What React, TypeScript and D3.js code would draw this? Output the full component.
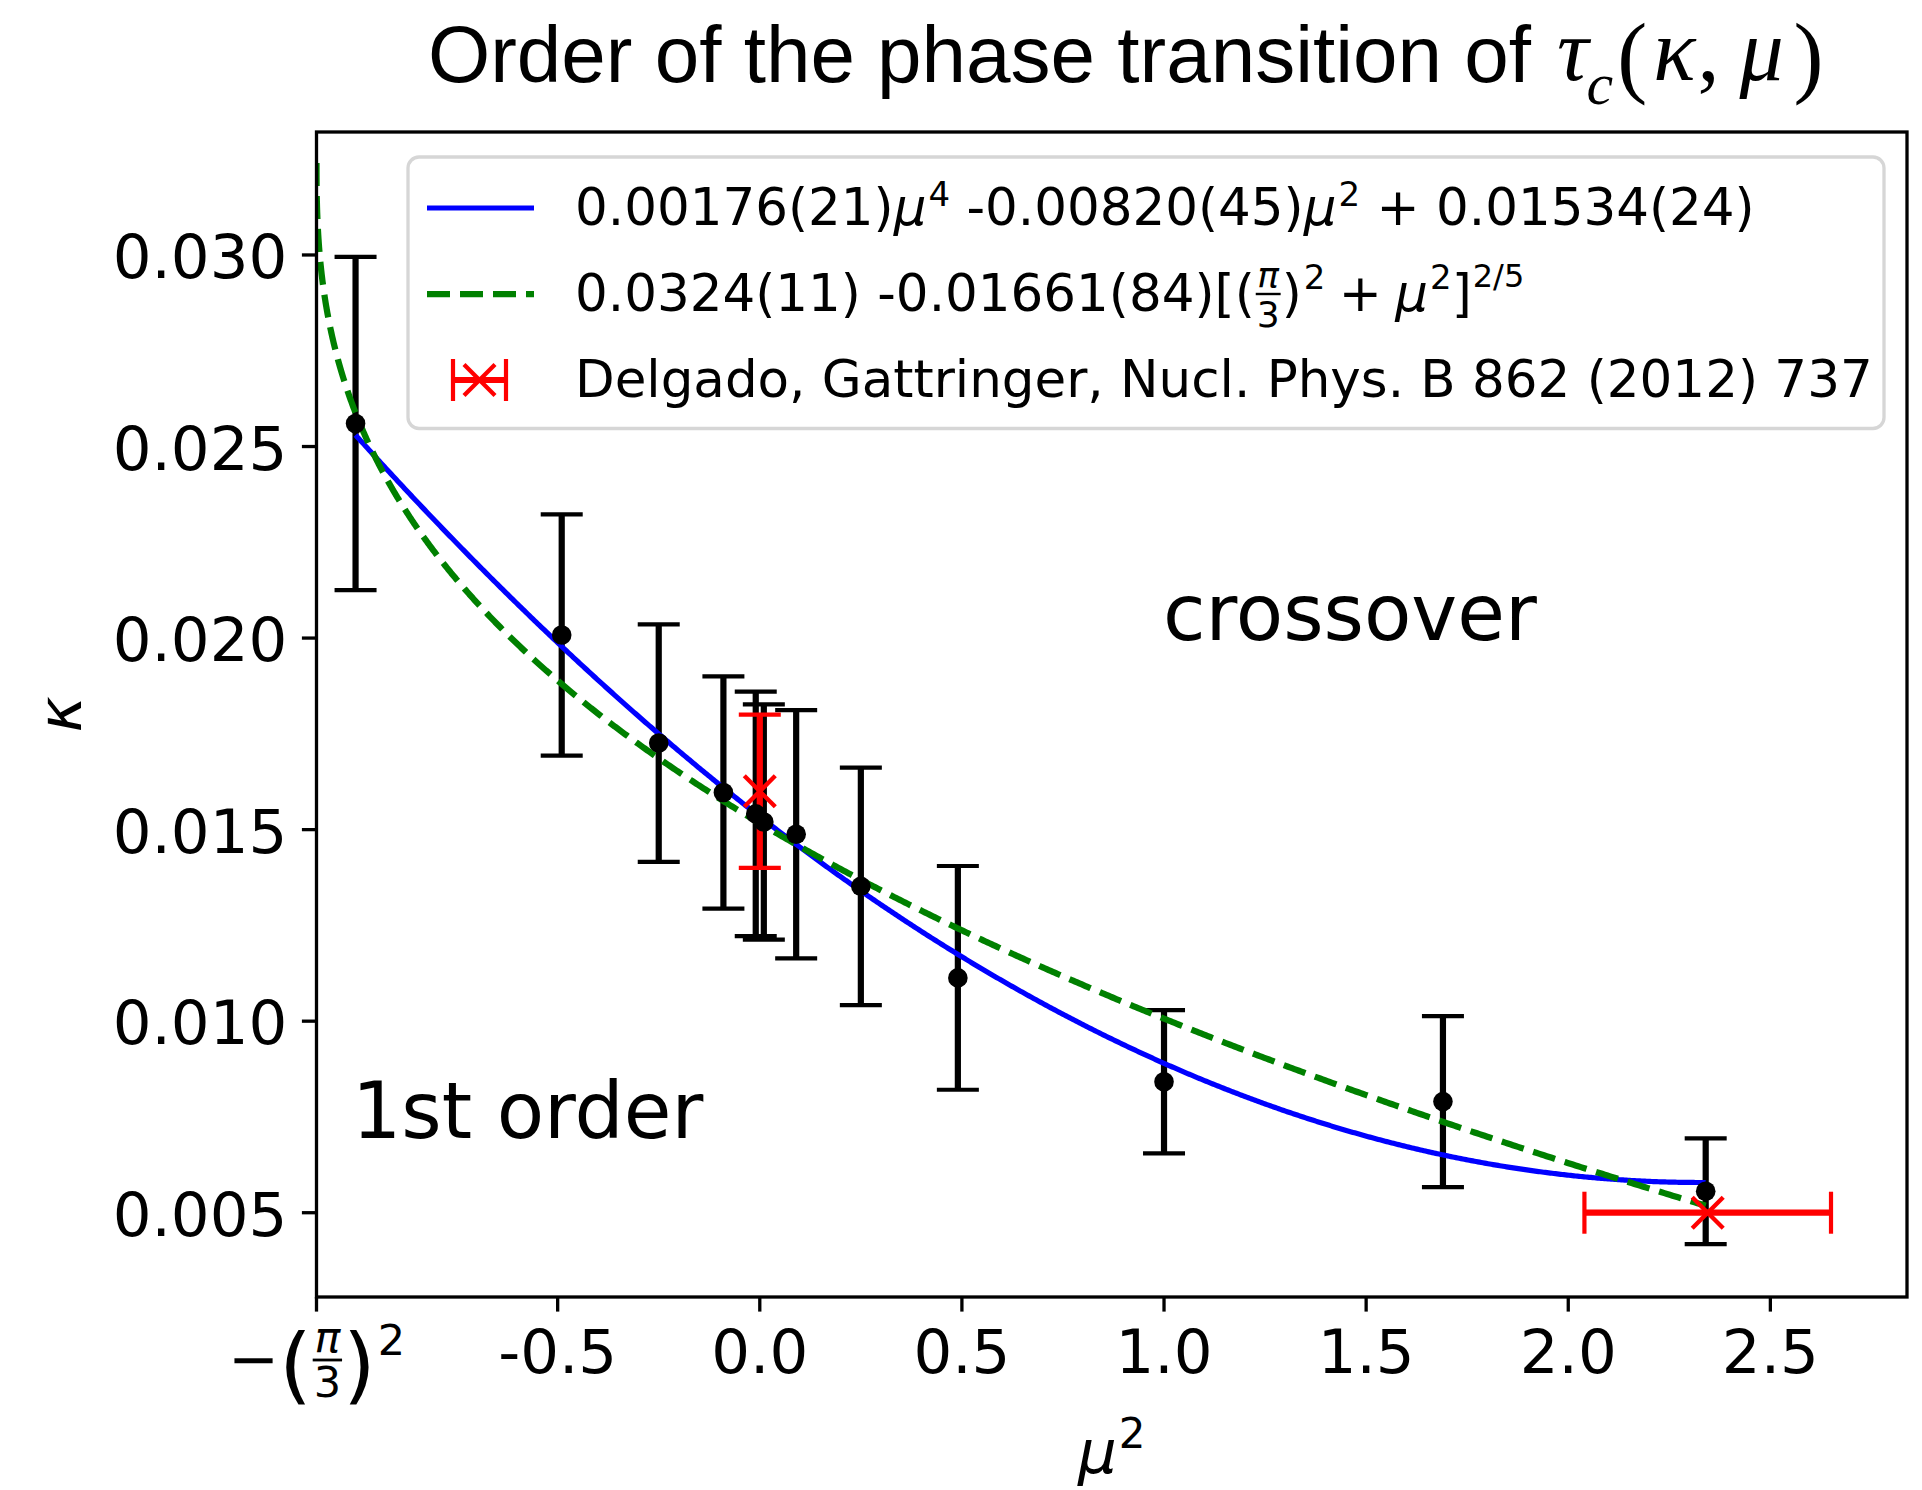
import React from 'react';
import * as d3 from 'd3';

// ---------------- data ----------------
const muSquared = [-1.0, -0.49, -0.25, -0.09, -0.01, 0.01, 0.09, 0.25, 0.49, 1.0, 1.69, 2.34];
const kappaValues = [0.0256, 0.02008, 0.01726, 0.01597, 0.01541, 0.0152, 0.01488, 0.01352, 0.01113, 0.00842, 0.0079, 0.00556];
const kappaErrors = [0.00435, 0.00315, 0.0031, 0.00303, 0.00319, 0.00307, 0.00324, 0.0031, 0.00292, 0.00187, 0.00223, 0.00138];

const refMuSquared = [0.0, 2.345];
const refKappa = [0.016, 0.005];
const refKappaErr = [0.002, 0];
const refMuSquaredErr = [0, 0.305];

// fit parameters (from the legend)
const polyCoeffs = [0.00176, -0.0082, 0.01534]; // a*mu^4 + b*mu^2 + c
const powerCoeffs = [0.0324, -0.01661, 0.4]; // A + B*[(pi/3)^2 + mu^2]^p
const curveEnd = 2.34;
const polyStart = -1.0;

const X_MIN = -Math.pow(Math.PI / 3, 2);
const X_MAX = 2.838;
const Y_MIN = 0.0028;
const Y_MAX = 0.03321;

const xTickValues = [X_MIN, -0.5, 0, 0.5, 1.0, 1.5, 2.0, 2.5];
const xTickLabels = ['', '-0.5', '0.0', '0.5', '1.0', '1.5', '2.0', '2.5'];
const yTickValues = [0.005, 0.01, 0.015, 0.02, 0.025, 0.03];
const yTickLabels = ['0.005', '0.010', '0.015', '0.020', '0.025', '0.030'];

const legendRow3 = 'Delgado, Gattringer, Nucl. Phys. B 862 (2012) 737';

// ---------------- layout ----------------
const W = 1922;
const H = 1490;
const L = 316.5;
const R = 1907;
const T = 132;
const B = 1297;

const SANS = 'DejaVu Sans';
const SERIF = 'Liberation Serif';
const TITLE_FONT = 'Liberation Sans';
const TICK_SIZE = 61;
const LEG_SIZE = 51.5;
const LEG_SUP = 34;
const ANN_SIZE = 77.5;

let _ctx: CanvasRenderingContext2D | null = null;
function tw(text: string, fam: string, size: number, it: boolean): number {
  if (!_ctx) _ctx = document.createElement('canvas').getContext('2d');
  const c = _ctx as CanvasRenderingContext2D;
  c.font = `${it ? 'italic ' : ''}${size}px "${fam}"`;
  return c.measureText(text).width;
}

type Frac = { num: string; den: string; numIt?: boolean; numBase: number; denBase: number; barY: number; pad?: number; barW?: number };
type Seg = { t?: string; size: number; fam?: string; it?: boolean; dy?: number; kern?: number; frac?: Frac };

function MathText({ x, y, segs, fam, anchor = 'start', fill = 'black' }: { x: number; y: number; segs: Seg[]; fam: string; anchor?: string; fill?: string }) {
  let cx = 0;
  const items: any[] = [];
  for (const s of segs) {
    cx += s.kern ?? 0;
    const f = s.fam ?? fam;
    if (s.frac) {
      const wn = tw(s.frac.num, f, s.size, !!s.frac.numIt);
      const wd = tw(s.frac.den, f, s.size, false);
      const pad = s.frac.pad ?? 3;
      const w = Math.max(wn, wd) + 2 * pad;
      items.push({ kind: 'frac', x: cx, w, s, f });
      cx += w;
    } else {
      const w = tw(s.t as string, f, s.size, !!s.it);
      items.push({ kind: 'text', x: cx, w, s, f });
      cx += w;
    }
  }
  const x0 = x - (anchor === 'middle' ? cx / 2 : anchor === 'end' ? cx : 0);
  return (
    <g>
      {items.map((it, i) => {
        const s: Seg = it.s;
        if (it.kind === 'text') {
          return (
            <text key={i} x={x0 + it.x} y={y - (s.dy ?? 0)} fontFamily={it.f} fontSize={s.size}
              fontStyle={s.it ? 'italic' : 'normal'} fill={fill} style={{ whiteSpace: 'pre' }}>{s.t}</text>
          );
        }
        const fr = s.frac as Frac;
        const cxm = x0 + it.x + it.w / 2;
        return (
          <g key={i}>
            <text x={cxm} y={y + fr.numBase} textAnchor="middle" fontFamily={it.f} fontSize={s.size}
              fontStyle={fr.numIt ? 'italic' : 'normal'} fill={fill}>{fr.num}</text>
            <line x1={x0 + it.x + 1} x2={x0 + it.x + it.w - 1} y1={y + fr.barY} y2={y + fr.barY}
              stroke={fill} strokeWidth={fr.barW ?? 2.6} />
            <text x={cxm} y={y + fr.denBase} textAnchor="middle" fontFamily={it.f} fontSize={s.size}
              fill={fill}>{fr.den}</text>
          </g>
        );
      })}
    </g>
  );
}

export default function App() {
  const x = d3.scaleLinear().domain([X_MIN, X_MAX]).range([L, R]);
  const y = d3.scaleLinear().domain([Y_MIN, Y_MAX]).range([B, T]);
  const line = d3.line<[number, number]>().x(d => x(d[0])).y(d => y(d[1]));

  const polyPts: [number, number][] = d3.range(0, 801).map(i => {
    const m = polyStart + (curveEnd - polyStart) * (i / 800);
    return [m, polyCoeffs[0] * m * m + polyCoeffs[1] * m + polyCoeffs[2]];
  });
  const powPts: [number, number][] = d3.range(0, 1001).map(i => {
    const m = X_MIN + (curveEnd - X_MIN) * Math.pow(i / 1000, 2);
    const base = Math.max(0, Math.pow(Math.PI / 3, 2) + m);
    return [m, powerCoeffs[0] + powerCoeffs[1] * Math.pow(base, powerCoeffs[2])];
  });

  const tickLen = 14.6;
  const spineW = 3.3;
  const capHalf = 21;
  const barW = 6.2;
  const capW = 4.2;
  const red = '#ff0000';
  const xm = 15.5;

  const row1: Seg[] = [
    { t: '0.00176(21)', size: LEG_SIZE },
    { t: 'μ', size: LEG_SIZE, it: true },
    { t: '4', size: LEG_SUP, dy: 19, kern: 2 },
    { t: ' -0.00820(45)', size: LEG_SIZE },
    { t: 'μ', size: LEG_SIZE, it: true },
    { t: '2', size: LEG_SUP, dy: 19, kern: 2 },
    { t: ' + 0.01534(24)', size: LEG_SIZE },
  ];
  const row2: Seg[] = [
    { t: '0.0324(11) -0.01661(84)[(', size: LEG_SIZE },
    { size: 36, frac: { num: 'π', den: '3', numIt: true, numBase: -23, denBase: 16, barY: -17, pad: 2, barW: 2.4 } },
    { t: ')', size: LEG_SIZE },
    { t: '2', size: LEG_SUP, dy: 22, kern: 2 },
    { t: ' + ', size: LEG_SIZE, kern: -3 },
    { t: 'μ', size: LEG_SIZE, it: true, kern: -3 },
    { t: '2', size: LEG_SUP, dy: 22, kern: 2 },
    { t: ']', size: LEG_SIZE },
    { t: '2/5', size: LEG_SUP - 2, dy: 24, kern: 1 },
  ];
  const firstTick: Seg[] = [
    { t: '−', size: TICK_SIZE },
    { t: '(', size: 84, dy: -14 },
    { size: 43, frac: { num: 'π', den: '3', numIt: true, numBase: -28, denBase: 17, barY: -20, pad: 2, barW: 2.8 } },
    { t: ')', size: 84, dy: -14 },
    { t: '2', size: 43, dy: 25, kern: 2 },
  ];
  const titleMath: Seg[] = [
    { t: 'τ', size: 88, it: true, fam: SERIF, dy: 2, kern: 4 },
    { t: 'c', size: 60, it: true, fam: SERIF, dy: -22, kern: -2 },
    { t: '(', size: 90, fam: SERIF, dy: -4, kern: 4 },
    { t: 'κ', size: 88, it: true, fam: SERIF, dy: 2, kern: 6 },
    { t: ',', size: 88, fam: SERIF, dy: 2, kern: 2 },
    { t: 'μ', size: 88, it: true, fam: SERIF, dy: 2, kern: 20 },
    { t: ')', size: 90, fam: SERIF, dy: -4, kern: 10 },
  ];
  const titleText = 'Order of the phase transition of ';
  const titleX = 428;
  const titleSize = 80;
  const titleW = tw(titleText, TITLE_FONT, titleSize, false);

  return (
    <svg width={W} height={H} viewBox={`0 0 ${W} ${H}`} style={{ position: 'absolute', left: 0, top: 0, background: 'white' }}>
      <rect x={0} y={0} width={W} height={H} fill="white" />
      <defs>
        <clipPath id="plotclip">
          <rect x={L} y={T} width={R - L} height={B - T} />
        </clipPath>
      </defs>

      {/* title */}
      <text x={titleX} y={82} fontFamily={TITLE_FONT} fontSize={titleSize} fill="black" style={{ whiteSpace: 'pre' }}>{titleText}</text>
      <MathText x={titleX + titleW} y={82} segs={titleMath} fam={SERIF} />

      <g clipPath="url(#plotclip)">
        {/* black error bars */}
        {muSquared.map((m, i) => {
          const cxp = x(m);
          const y1 = y(kappaValues[i] + kappaErrors[i]);
          const y2 = y(kappaValues[i] - kappaErrors[i]);
          return (
            <g key={'eb' + i} stroke="black">
              <line x1={cxp} x2={cxp} y1={y1} y2={y2} strokeWidth={barW} />
              <line x1={cxp - capHalf} x2={cxp + capHalf} y1={y1} y2={y1} strokeWidth={capW} />
              <line x1={cxp - capHalf} x2={cxp + capHalf} y1={y2} y2={y2} strokeWidth={capW} />
            </g>
          );
        })}
        {/* red reference error bars */}
        {refMuSquared.map((m, i) => {
          const cxp = x(m);
          const cyp = y(refKappa[i]);
          const els: any[] = [];
          if (refKappaErr[i] > 0) {
            const y1 = y(refKappa[i] + refKappaErr[i]);
            const y2 = y(refKappa[i] - refKappaErr[i]);
            els.push(<line key="v" x1={cxp} x2={cxp} y1={y1} y2={y2} strokeWidth={barW} />);
            els.push(<line key="c1" x1={cxp - capHalf} x2={cxp + capHalf} y1={y1} y2={y1} strokeWidth={capW} />);
            els.push(<line key="c2" x1={cxp - capHalf} x2={cxp + capHalf} y1={y2} y2={y2} strokeWidth={capW} />);
          }
          if (refMuSquaredErr[i] > 0) {
            const x1 = x(m - refMuSquaredErr[i]);
            const x2 = x(m + refMuSquaredErr[i]);
            els.push(<line key="h" x1={x1} x2={x2} y1={cyp} y2={cyp} strokeWidth={barW} />);
            els.push(<line key="c3" x1={x1} x2={x1} y1={cyp - capHalf} y2={cyp + capHalf} strokeWidth={capW} />);
            els.push(<line key="c4" x1={x2} x2={x2} y1={cyp - capHalf} y2={cyp + capHalf} strokeWidth={capW} />);
          }
          return <g key={'rb' + i} stroke={red}>{els}</g>;
        })}

        {/* fit curves */}
        <path d={line(polyPts) || ''} fill="none" stroke="#0000ff" strokeWidth={5.2} />
        <path d={line(powPts) || ''} fill="none" stroke="#008000" strokeWidth={6.25} strokeDasharray="23,10" />

        {/* black points */}
        {muSquared.map((m, i) => (
          <circle key={'pt' + i} cx={x(m)} cy={y(kappaValues[i])} r={9.8} fill="black" />
        ))}
        {/* red crosses */}
        {refMuSquared.map((m, i) => {
          const cxp = x(m);
          const cyp = y(refKappa[i]);
          return (
            <g key={'rx' + i} stroke={red} strokeWidth={4.3}>
              <line x1={cxp - xm} x2={cxp + xm} y1={cyp - xm} y2={cyp + xm} />
              <line x1={cxp - xm} x2={cxp + xm} y1={cyp + xm} y2={cyp - xm} />
            </g>
          );
        })}
      </g>

      {/* annotations */}
      <text x={1163} y={640} fontFamily={SANS} fontSize={ANN_SIZE} fill="black">crossover</text>
      <text x={352} y={1138} fontFamily={SANS} fontSize={ANN_SIZE} fill="black">1st order</text>

      {/* legend */}
      <g>
        <rect x={408} y={157} width={1476} height={271.5} rx={11} ry={11} fill="white" fillOpacity={0.8}
          stroke="#d6d6d6" strokeWidth={3.3} />
        <line x1={427} x2={534} y1={208} y2={208} stroke="#0000ff" strokeWidth={5.2} />
        <line x1={427} x2={534} y1={294} y2={294} stroke="#008000" strokeWidth={6.25} strokeDasharray="23,10" />
        <g stroke={red}>
          <line x1={453} x2={506} y1={380} y2={380} strokeWidth={barW} />
          <line x1={453} x2={453} y1={359} y2={401} strokeWidth={capW} />
          <line x1={506} x2={506} y1={359} y2={401} strokeWidth={capW} />
          <line x1={479.5 - xm} x2={479.5 + xm} y1={380 - xm} y2={380 + xm} strokeWidth={4.3} />
          <line x1={479.5 - xm} x2={479.5 + xm} y1={380 + xm} y2={380 - xm} strokeWidth={4.3} />
        </g>
        <MathText x={575} y={225} segs={row1} fam={SANS} />
        <MathText x={575} y={311} segs={row2} fam={SANS} />
        <text x={575} y={397} fontFamily={SANS} fontSize={LEG_SIZE} fill="black">{legendRow3}</text>
      </g>

      {/* axes frame */}
      <rect x={L} y={T} width={R - L} height={B - T} fill="none" stroke="black" strokeWidth={spineW} />

      {/* x ticks */}
      {xTickValues.map((v, i) => (
        <g key={'xt' + i}>
          <line x1={x(v)} x2={x(v)} y1={B} y2={B + tickLen} stroke="black" strokeWidth={spineW} />
          {xTickLabels[i] !== '' ? (
            <text x={x(v)} y={1373} textAnchor="middle" fontFamily={SANS} fontSize={TICK_SIZE} fill="black">{xTickLabels[i]}</text>
          ) : (
            <MathText x={x(v)} y={1380} segs={firstTick} fam={SANS} anchor="middle" />
          )}
        </g>
      ))}

      {/* y ticks */}
      {yTickValues.map((v, i) => (
        <g key={'yt' + i}>
          <line x1={L - tickLen} x2={L} y1={y(v)} y2={y(v)} stroke="black" strokeWidth={spineW} />
          <text x={L - tickLen - 14.6} y={y(v) + 23} textAnchor="end" fontFamily={SANS} fontSize={TICK_SIZE} fill="black">{yTickLabels[i]}</text>
        </g>
      ))}

      {/* axis labels */}
      <MathText x={(L + R) / 2} y={1473} fam={SANS} anchor="middle"
        segs={[{ t: 'μ', size: TICK_SIZE, it: true }, { t: '2', size: 42, dy: 25, kern: 2 }]} />
      <text transform={`translate(81,${(T + B) / 2}) rotate(-90)`} textAnchor="middle" fontFamily={SANS}
        fontStyle="italic" fontSize={TICK_SIZE} fill="black">κ</text>
    </svg>
  );
}
